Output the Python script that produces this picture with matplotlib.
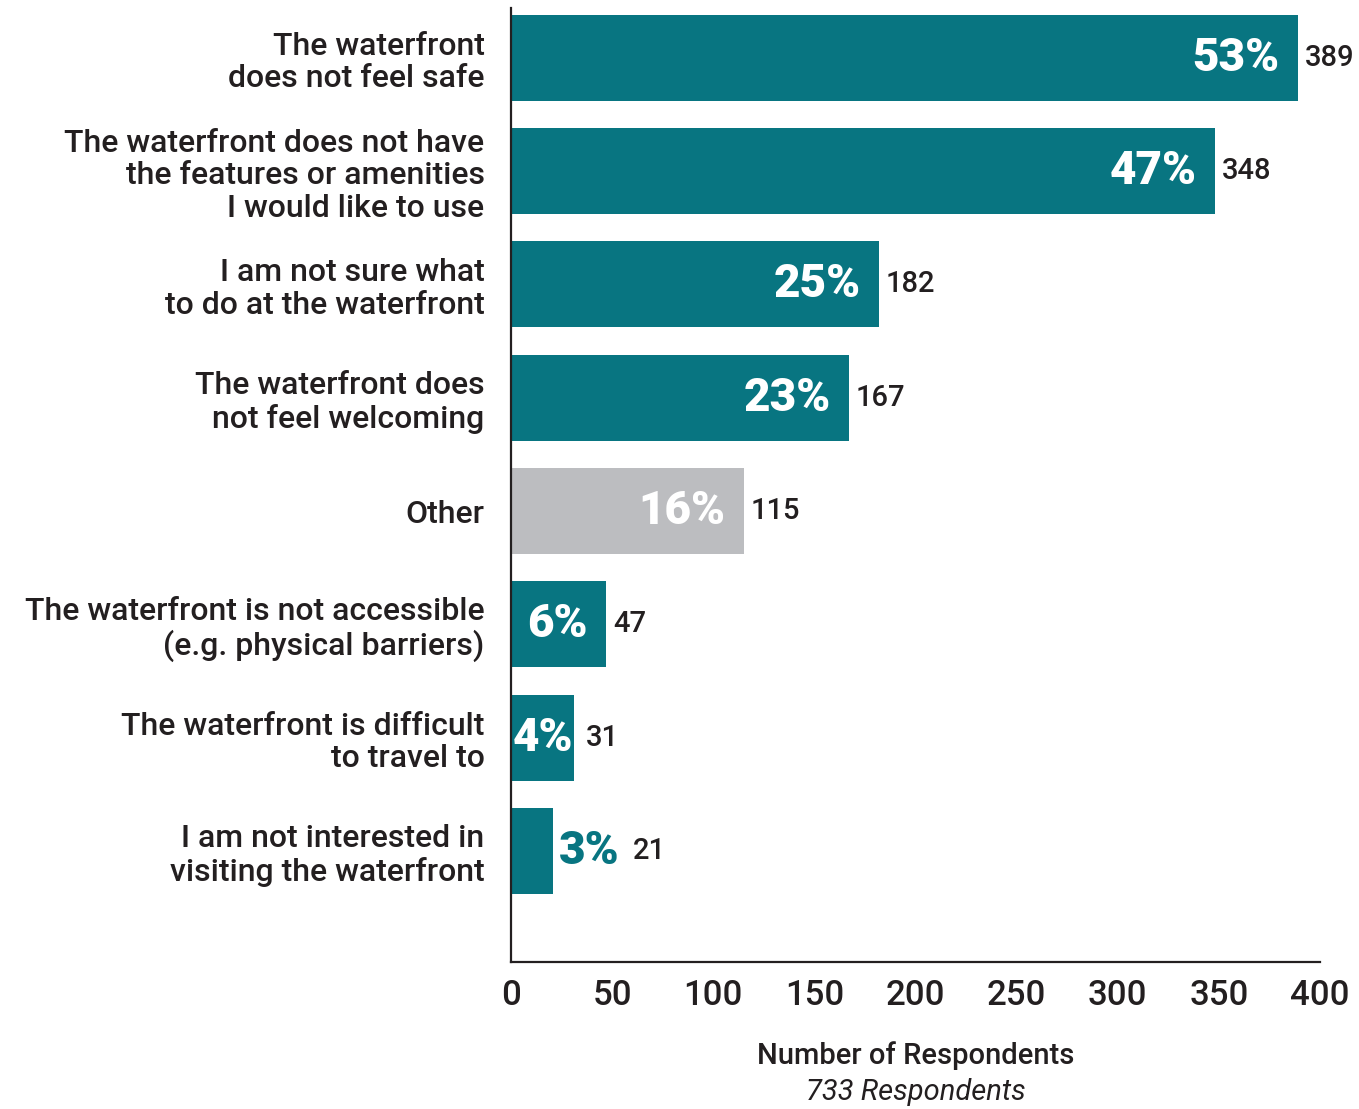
import matplotlib.pyplot as plt

# data
labels = ["The waterfront\ndoes not feel safe",
          "The waterfront does not have\nthe features or amenities\nI would like to use",
          "I am not sure what\nto do at the waterfront",
          "The waterfront does\nnot feel welcoming",
          "Other",
          "The waterfront is not accessible\n(e.g. physical barriers)",
          "The waterfront is difficult\nto travel to",
          "I am not interested in\nvisiting the waterfront"]
counts = [389, 348, 182, 167, 115, 47, 31, 21]
pcts = ["53%", "47%", "25%", "23%", "16%", "6%", "4%", "3%"]
xticks = [0, 50, 100, 150, 200, 250, 300, 350, 400]

teal = "#087581"
grey = "#bcbdc0"
ink = "#231f20"
colors = [grey if l == "Other" else teal for l in labels]

plt.rcParams['font.family'] = ['Roboto', 'DejaVu Sans']

fig = plt.figure(figsize=(13.59, 11.09), dpi=100)
ax = fig.add_axes([0.376, 0.1326, 0.5953, 0.8602])

y = list(range(len(labels)))
ax.barh(y, counts, height=0.76, color=colors)
ax.set_ylim(7.98, -0.44)
ax.set_xlim(0, 400)

pkw = dict(textcoords='offset points', va='center', fontsize=33, fontweight='heavy')
ckw = dict(textcoords='offset points', va='center', ha='left', color=ink,
           fontsize=21, fontweight='medium')
for i, (v, p) in enumerate(zip(counts, pcts)):
    if v >= 40:
        ax.annotate(p, (v, i), xytext=(-13, 0), ha='right', color='white', **pkw)
        ax.annotate(str(v), (v, i), xytext=(5, 0), **ckw)
    elif v >= 30:
        ax.annotate(p, (0, i), xytext=(1, 0), ha='left', color='white', **pkw)
        ax.annotate(str(v), (v, i), xytext=(9, 0), **ckw)
    else:
        ax.annotate(p, (v, i), xytext=(4, 0), ha='left', color=teal, **pkw)
        ax.annotate(str(v), (v, i), xytext=(57, 0), **ckw)

ax.set_yticks(y)
ax.set_yticklabels(labels, fontsize=23, fontweight='medium', color=ink,
                   linespacing=1.15)
ax.tick_params(axis='y', length=0, pad=19)
ax.set_xticks(xticks)
ax.set_xticklabels([str(t) for t in xticks], fontsize=25, fontweight='medium',
                   color=ink)
ax.tick_params(axis='x', length=0, pad=12)

for s in ['top', 'right']:
    ax.spines[s].set_visible(False)
for s in ['left', 'bottom']:
    ax.spines[s].set_color(ink)
    ax.spines[s].set_linewidth(1.6)

fig.text(0.674, 0.048, "Number of Respondents", ha='center', va='center',
         fontsize=21, fontweight='medium', color=ink)
fig.text(0.674, 0.015, "733 Respondents", ha='center', va='center',
         fontsize=21, style='italic', color=ink)

fig.savefig("out.png", dpi=100)
